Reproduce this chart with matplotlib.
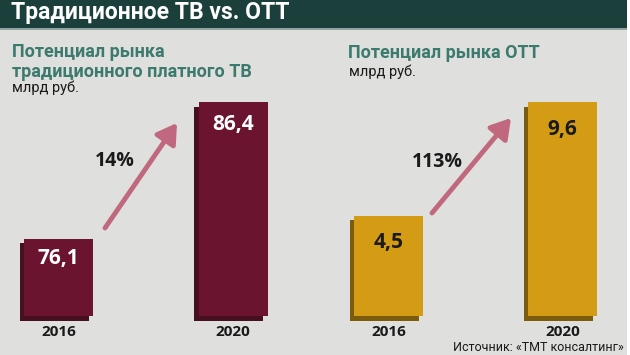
import matplotlib
matplotlib.use("Agg")
import matplotlib.pyplot as plt
from matplotlib.patches import Rectangle, FancyArrowPatch
from matplotlib.transforms import ScaledTranslation

# ---- data ----
years = ["2016", "2020"]
tv_values = [76.1, 86.4]
ott_values = [4.5, 9.6]
tv_labels = ["76,1", "86,4"]
ott_labels = ["4,5", "9,6"]
title = "Традиционное ТВ vs. ОТТ"
tv_title = "Потенциал рынка\nтрадиционного платного ТВ"
ott_title = "Потенциал рынка ОТТ"
unit = "млрд руб."
source = "Источник: «ТМТ консалтинг»"

W, H = 630, 355
fig = plt.figure(figsize=(W / 100, H / 100), dpi=100, facecolor="white")

def fx(x):
    return x / W

def fy(y):
    return 1 - y / H

# background and header
fig.patches.append(Rectangle((0, 0), fx(627), 1, transform=fig.transFigure,
                             facecolor="#dfdfde", edgecolor="none", zorder=-10))
fig.patches.append(Rectangle((0, fy(28)), fx(627), 1 - fy(28), transform=fig.transFigure,
                             facecolor="#1b403b", edgecolor="none", zorder=-9))
fig.patches.append(Rectangle((0, fy(29.5)), fx(627), fy(28) - fy(29.5), transform=fig.transFigure,
                             facecolor="#8fa3a0", edgecolor="none", zorder=-9))

HEAD = "Roboto"
fig.text(fx(11), fy(12), title, color="white", fontsize=16.5, fontweight="bold",
         family=HEAD, va="center", ha="left")

teal = "#3b7a6d"
fig.text(fx(12), fy(62), tv_title, color=teal, fontsize=13, fontweight="bold",
         family=HEAD, va="center", ha="left", linespacing=1.15)
fig.text(fx(12), fy(88), unit, color="#1a1a1a", fontsize=10.5, family=HEAD,
         va="center", ha="left")
fig.text(fx(348), fy(53), ott_title, color=teal, fontsize=13, fontweight="bold",
         family=HEAD, va="center", ha="left")
fig.text(fx(349), fy(72), unit, color="#1a1a1a", fontsize=10.5, family=HEAD,
         va="center", ha="left")
fig.text(fx(624), fy(354), source, color="#1a1a1a", fontsize=9, family=HEAD,
         va="bottom", ha="right")

NUM = "Open Sans"

def panel(x0, x1, center0, unit_px, base, ymax, values, labels, face, side, txtcol, lab_off):
    ax = fig.add_axes([fx(x0), fy(316), fx(x1) - fx(x0), fy(30) - fy(316)])
    ax.set_axis_off()
    left = -(center0 - x0) / unit_px
    right = (x1 - center0) / unit_px
    ax.set_xlim(left, right)
    ax.set_ylim(base, ymax)
    xs = list(range(len(values)))
    width = 69 / unit_px
    heights = [v - base for v in values]
    off = ScaledTranslation(-4.5 / 100, -4.5 / 100, fig.dpi_scale_trans)
    ax.bar(xs, heights, bottom=base, width=width, color=side, edgecolor="none",
           transform=ax.transData + off, clip_on=False, zorder=1)
    ax.bar(xs, heights, bottom=base, width=width, color=face, edgecolor="none",
           clip_on=False, zorder=2)
    for x, v, lab, o in zip(xs, values, labels, lab_off):
        ax.annotate(lab, (x, v), xytext=(0, -o), textcoords="offset pixels",
                    ha="center", va="center", color=txtcol, fontsize=15,
                    fontweight="bold", family=NUM, zorder=3)
        ax.annotate(years[x], (x, base), xytext=(0, -16), textcoords="offset pixels",
                    ha="center", va="center", color="#1a1a1a", fontsize=11,
                    fontweight="bold", family=NUM, annotation_clip=False)
    return ax

panel(0, 315, 58.5, 174.5, 70.3, 70.3 + 286 / 13.29, tv_values, tv_labels,
      "#6a1430", "#47101f", "white", [20, 22])
panel(315, 630, 388.5, 174, 0.0, 286 / 22.29, ott_values, ott_labels,
      "#d39c14", "#7b5b0c", "#1a1a1a", [27, 27])

arrow_col = "#c0697e"
for (x0, y0, x1, y1), (lx, ly), vals in [((105, 228, 177, 123), (115, 161), tv_values),
                                         ((432, 213, 511, 118), (437, 162), ott_values)]:
    arr = FancyArrowPatch((fx(x0), fy(y0)), (fx(x1), fy(y1)), transform=fig.transFigure,
                          arrowstyle="-|>,head_length=9,head_width=5.5", color=arrow_col,
                          linewidth=3.5, mutation_scale=1.3, shrinkA=0, shrinkB=0)
    fig.patches.append(arr)
    pct = round((vals[1] / vals[0] - 1) * 100)
    fig.text(fx(lx), fy(ly), f"{pct}%", color="#1a1a1a", fontsize=14, fontweight="bold",
             family=NUM, ha="center", va="center")

fig.savefig("out.png", dpi=100, facecolor=fig.get_facecolor())
